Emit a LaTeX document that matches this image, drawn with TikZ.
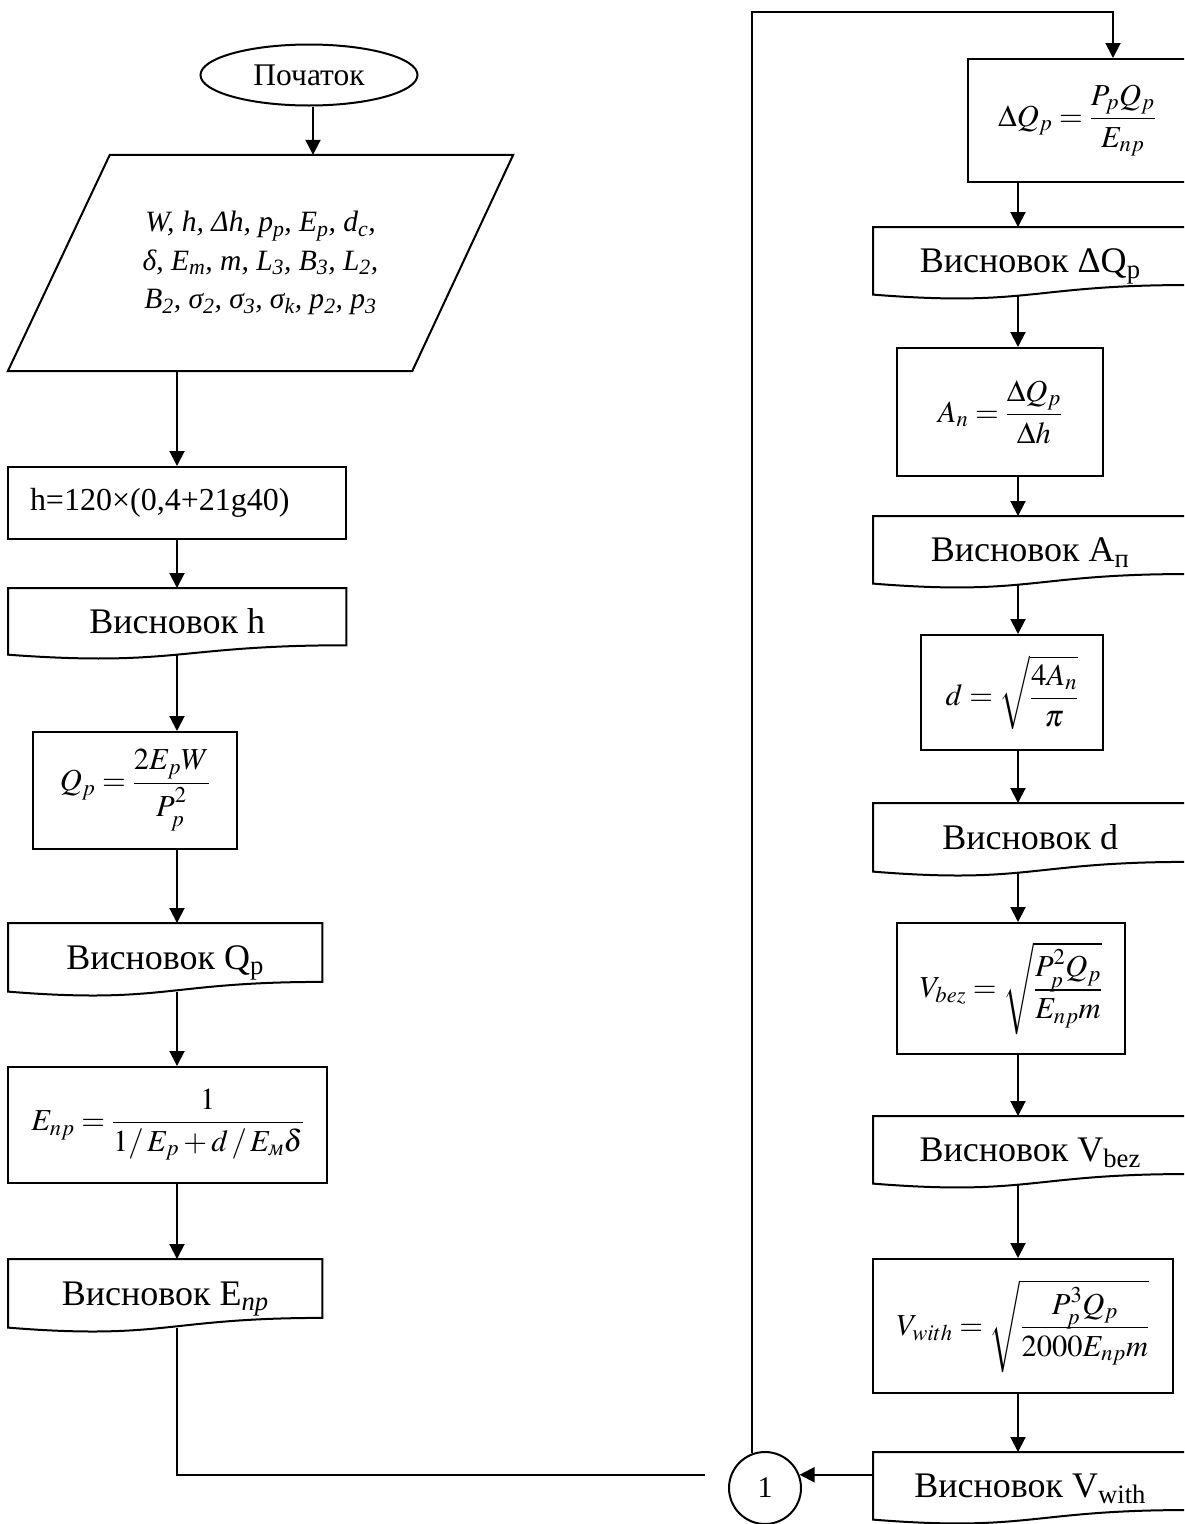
\documentclass[tikz,border=0pt]{standalone}
\usepackage{amsmath}
\usepackage{mathptmx}
\usepackage[no-math]{fontspec}
\setmainfont{Liberation Serif}
\usetikzlibrary{arrows.meta,shapes.geometric,calc}
\newcommand\docpath[1]{%
  \draw[line width=2pt] let \p1=(#1.north west), \p2=(#1.south east), \n1={(\y1-\y2)/0.934} in
    (\x1,\y1) -- (\x2,\y1) -- (\x2,{\y1-0.802*\n1})
    .. controls ({(\x1+\x2)/2},{\y1-0.802*\n1}) and ({(\x1+\x2)/2},{\y1-1.107*\n1}) .. (\x1,\y2) -- cycle;}
\newcommand\Ppow[1]{P^{\raisebox{5pt}{$\scriptstyle #1$}}_{\raisebox{-3pt}{$\scriptstyle p$}}}
\newcommand\Ppows[1]{P^{\smash{\raisebox{3pt}{$\scriptstyle #1$}}}_{\smash{\raisebox{-3pt}{$\scriptstyle p$}}}}
\begin{document}
\begin{tikzpicture}[x=1pt,y=-1pt,
  lw/.style={line width=2pt},
  arr/.style={line width=2pt,-{Triangle[length=15pt,width=15pt]}},
  proc/.style={draw,line width=2pt,rectangle,inner sep=0pt},
  docn/.style={rectangle,inner sep=0pt,anchor=north west,text height=30pt,text depth=6pt,font=\fontsize{36}{42}\selectfont},
  mth/.style={font=\fontsize{30.5}{36}\selectfont},
]
\useasboundingbox (0,0) rectangle (1184,1524);
\clip (0,0) rectangle (1184,1524);

\coordinate (colT) at (313,0);
\coordinate (colL) at (177,0);
\coordinate (colR) at (1018,0);
\coordinate (tr) at (1113,12);
\coordinate (j1) at (705,1475);

% left column
\node[draw,lw,ellipse,minimum width=217pt,minimum height=61pt,inner sep=0pt,font=\fontsize{31.5}{36}\selectfont] (start) at (309,75) {Початок};

\node[align=center,font=\fontsize{29.5}{38.5}\selectfont\itshape,minimum width=505pt,minimum height=216pt,inner sep=0pt] (inp) at (260.5,263)
 {W, h, Δh, p\textsubscript{p}, E\textsubscript{p}, d\textsubscript{c},\\ δ, E\textsubscript{m}, m, L\textsubscript{3}, B\textsubscript{3}, L\textsubscript{2},\\ B\textsubscript{2}, σ\textsubscript{2}, σ\textsubscript{3}, σ\textsubscript{k}, p\textsubscript{2}, p\textsubscript{3}};
\draw[lw] ($(inp.north west)+(102,0)$) -- (inp.north east) -- ($(inp.south east)+(-101,0)$) -- (inp.south west) -- cycle;

\node[proc,minimum width=338pt,minimum height=72pt,text width=294pt,inner xsep=22pt,align=left,font=\fontsize{32}{38}\selectfont] (hbox) at (177,503) {h=120×(0,4+21g40)};

\node[docn,minimum width=338pt,minimum height=66.3pt] (vh) at (8,588) {Висновок h};
\docpath{vh}

\node[proc,mth,minimum width=204pt,minimum height=117pt] (qp) at (135,790.5) {$\displaystyle Q_p=\frac{2E_pW}{\Ppow{2}}$};

\node[docn,minimum width=314pt,minimum height=68.2pt] (vqp) at (8,923) {Висновок Q\textsubscript{p}};
\docpath{vqp}

\node[proc,mth,minimum width=319pt,minimum height=116pt] (enp) at (167.5,1125) {$\displaystyle E_{np}=\frac{1}{1/\,E_p+d\,/\,E_{\text{\itshape м}}\delta}$};

\node[docn,minimum width=314pt,minimum height=68.2pt] (venp) at (8,1259) {Висновок E\textsubscript{\itshape np}};
\docpath{venp}

% right column
\node[proc,mth,minimum width=218pt,minimum height=123pt] (dq) at (1077,120.5) {$\displaystyle \Delta Q_p=\frac{P_pQ_p}{E_{np}}$};

\node[docn,minimum width=314pt,minimum height=67.2pt] (vdq) at (873,227) {Висновок ΔQ\textsubscript{p}};
\docpath{vdq}

\node[proc,mth,minimum width=206pt,minimum height=128pt] (an) at (1000,412) {$\displaystyle A_n=\frac{\Delta Q_p}{\Delta h}$};

\node[docn,minimum width=314pt,minimum height=67.2pt] (va) at (873,516) {Висновок A\textsubscript{п}};
\docpath{va}

\node[proc,mth,minimum width=182pt,minimum height=115pt] (dbox) at (1012,692.5) {$\displaystyle d=\sqrt{\frac{4A_n}{\pi}}$};

\node[docn,minimum width=314pt,minimum height=68.2pt] (vd) at (873,803) {Висновок d};
\docpath{vd}

\node[proc,mth,minimum width=228pt,minimum height=131pt] (vb) at (1011,988.5) {$\displaystyle V_{bez}=\sqrt{\frac{\Ppows{2}Q_p}{E_{np}m}}$};

\node[docn,minimum width=314pt,minimum height=67.2pt] (vvb) at (873,1116) {Висновок V\textsubscript{bez}};
\docpath{vvb}

\node[proc,mth,minimum width=300pt,minimum height=134pt] (vw) at (1023,1326) {$\displaystyle V_{with}=\sqrt{\frac{\Ppows{3}Q_p}{2000E_{np}m}}$};

\node[docn,minimum width=314pt,minimum height=67.2pt] (vvw) at (873,1452) {Висновок V\textsubscript{with}};
\docpath{vvw}

\node[draw,lw,circle,minimum size=72pt,inner sep=0pt,font=\fontsize{30}{36}\selectfont] (c1) at (765,1488) {1};

% connectors
\draw[arr] (start.south -| colT) -- (inp.north -| colT);
\draw[arr] (inp.south -| colL) -- (hbox.north -| colL);
\draw[arr] (hbox.south -| colL) -- (vh.north -| colL);
\draw[arr] (vh.south -| colL) -- (qp.north -| colL);
\draw[arr] (qp.south -| colL) -- (vqp.north -| colL);
\draw[arr] (vqp.south -| colL) -- (enp.north -| colL);
\draw[arr] (enp.south -| colL) -- (venp.north -| colL);
\draw[lw] (venp.south -| colL) |- (j1);

\draw[arr] (c1.110) |- (tr) -- (tr |- dq.north);
\draw[arr] (dq.south -| colR) -- (vdq.north -| colR);
\draw[arr] (vdq.south -| colR) -- (an.north -| colR);
\draw[arr] (an.south -| colR) -- (va.north -| colR);
\draw[arr] (va.south -| colR) -- (dbox.north -| colR);
\draw[arr] (dbox.south -| colR) -- (vd.north -| colR);
\draw[arr] (vd.south -| colR) -- (vb.north -| colR);
\draw[arr] (vb.south -| colR) -- (vvb.north -| colR);
\draw[arr] (vvb.south -| colR) -- (vw.north -| colR);
\draw[arr] (vw.south -| colR) -- (vvw.north -| colR);
\draw[arr] (vvw.west |- c1.21) -- (c1.21);
\end{tikzpicture}
\end{document}
